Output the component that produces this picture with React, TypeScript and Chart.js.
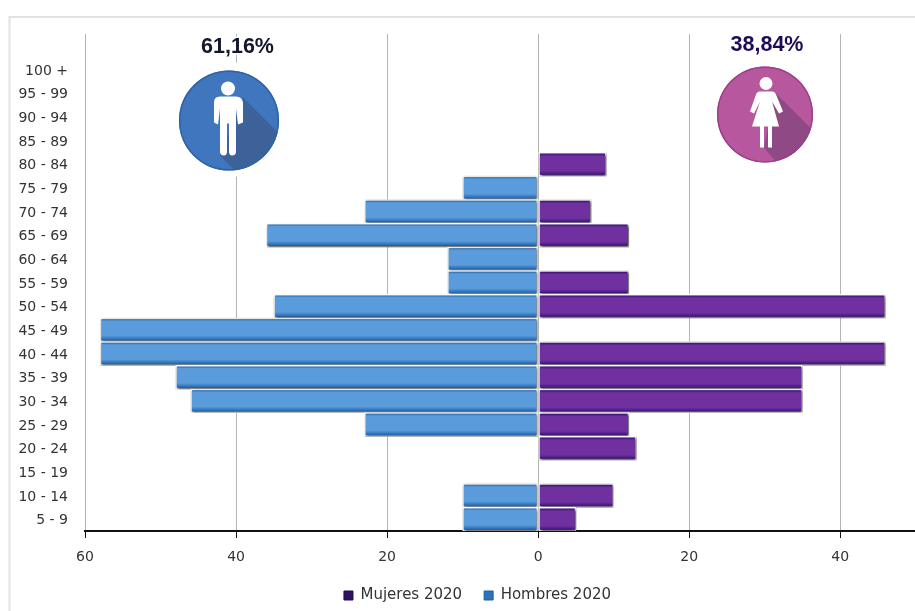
import React, { useEffect, useRef } from "react";
import { Chart, registerables } from "chart.js";

Chart.register(...registerables);

// Age groups from top to bottom; the empty slot leaves headroom for the share headings.
const ageGroups = ["", "100 +", "95 - 99", "90 - 94", "85 - 89", "80 - 84", "75 - 79", "70 - 74", "65 - 69", "60 - 64", "55 - 59", "50 - 54", "45 - 49", "40 - 44", "35 - 39", "30 - 34", "25 - 29", "20 - 24", "15 - 19", "10 - 14", "5 - 9"];
const mujeres2020 = [null, null, null, null, null, 9, null, 7, 12, null, 12, 46, null, 46, 35, 35, 12, 13, null, 10, 5];
const hombres2020 = [null, null, null, null, null, null, -10, -23, -36, -12, -12, -35, -58, -58, -48, -46, -23, null, null, -10, -10];
const shareHombres = "61,16%";
const shareMujeres = "38,84%";

const FONT = "'DejaVu Sans', sans-serif";

type Stops = [number, string][];
const blueStops: Stops = [[0, "#2f70b6"], [0.09, "#5a9bdb"], [0.78, "#5a9bdb"], [1, "#1f64ab"]];
const purpleStops: Stops = [[0, "#3c1478"], [0.12, "#7030a0"], [0.82, "#7030a0"], [1, "#3c1478"]];

// Vertical sheen across each bar, computed from the category band it sits in.
function barFill(stops: Stops) {
  return (c: any) => {
    const { chart, dataIndex } = c;
    const y = chart.scales?.y;
    if (!y || dataIndex === undefined) return stops[1][1];
    const mid = y.getPixelForValue(dataIndex);
    const g = chart.ctx.createLinearGradient(0, mid - 10.5, 0, mid + 10.5);
    stops.forEach(([o, col]) => g.addColorStop(o, col));
    return g;
  };
}

// Outer frame of the chart panel, running off the right and bottom of the page.
const panelFrame = {
  id: "panelFrame",
  beforeDraw(chart: any) {
    const { ctx } = chart;
    ctx.save();
    ctx.strokeStyle = "#e2e2e2";
    ctx.lineWidth = 2;
    ctx.strokeRect(9.5, 17, 2000, 2000);
    ctx.restore();
  },
};

// Moves the centred legend block a little to the right of the canvas centre.
const legendShift = {
  id: "legendShift",
  afterLayout(chart: any) {
    chart.legend.left += 20;
    chart.legend.right += 20;
  },
};

// Drop shadow beneath the bars.
const barShadow = {
  id: "barShadow",
  beforeDatasetsDraw(chart: any) {
    const { ctx } = chart;
    ctx.save();
    ctx.shadowColor = "rgba(0,0,0,0.8)";
    ctx.shadowBlur = 2.5;
    ctx.shadowOffsetX = 1;
    ctx.shadowOffsetY = 1;
  },
  afterDatasetsDraw(chart: any) {
    chart.ctx.restore();
  },
};

function badge(ctx: CanvasRenderingContext2D, cx: number, cy: number, r: number, base: string, edge: string, shade: string, wedge: [number, number][], figure: (c: CanvasRenderingContext2D) => void) {
  ctx.save();
  ctx.translate(cx, cy);
  ctx.fillStyle = "#fff";
  ctx.fillRect(-r - 6, -r - 8, 2 * r + 12, 2 * r + 14);
  ctx.beginPath();
  ctx.arc(0, 0, r, 0, Math.PI * 2);
  ctx.fillStyle = base;
  ctx.fill();
  ctx.save();
  ctx.clip();
  ctx.beginPath();
  wedge.forEach(([x, y], i) => (i ? ctx.lineTo(x, y) : ctx.moveTo(x, y)));
  ctx.closePath();
  ctx.fillStyle = shade;
  ctx.fill();
  ctx.restore();
  ctx.beginPath();
  ctx.arc(0, 0, r - 0.7, 0, Math.PI * 2);
  ctx.strokeStyle = edge;
  ctx.lineWidth = 1.5;
  ctx.stroke();
  ctx.fillStyle = "#fff";
  figure(ctx);
  ctx.restore();
}

function manFigure(c: CanvasRenderingContext2D) {
  c.beginPath();
  c.arc(-1, -32, 7, 0, Math.PI * 2);
  c.fill();
  c.beginPath();
  c.moveTo(-9, -24);
  c.lineTo(7, -24);
  c.quadraticCurveTo(13, -24, 14, -18);
  c.lineTo(14, 2);
  c.lineTo(9, 4);
  c.lineTo(7, -12);
  c.lineTo(7, 31);
  c.quadraticCurveTo(7, 35, 3, 35);
  c.quadraticCurveTo(0, 35, 0, 31);
  c.lineTo(0, 3);
  c.lineTo(-2, 3);
  c.lineTo(-2, 31);
  c.quadraticCurveTo(-2, 35, -5, 35);
  c.quadraticCurveTo(-9, 35, -9, 31);
  c.lineTo(-9, -12);
  c.lineTo(-11, 4);
  c.lineTo(-15, 2);
  c.lineTo(-15, -18);
  c.quadraticCurveTo(-15, -24, -9, -24);
  c.closePath();
  c.fill();
}

function womanFigure(c: CanvasRenderingContext2D) {
  c.beginPath();
  c.arc(1, -31, 6.5, 0, Math.PI * 2);
  c.fill();
  c.beginPath();
  c.moveTo(-5, -23);
  c.lineTo(7, -23);
  c.quadraticCurveTo(10, -23, 11, -20);
  c.lineTo(18, -3);
  c.lineTo(14, -1);
  c.lineTo(7, -13);
  c.lineTo(14, 12);
  c.lineTo(7, 12);
  c.lineTo(7, 33);
  c.lineTo(3, 33);
  c.lineTo(3, 12);
  c.lineTo(-1, 12);
  c.lineTo(-1, 33);
  c.lineTo(-5, 33);
  c.lineTo(-5, 12);
  c.lineTo(-13, 12);
  c.lineTo(-5, -13);
  c.lineTo(-11, -1);
  c.lineTo(-15, -3);
  c.lineTo(-9, -20);
  c.quadraticCurveTo(-8, -23, -5, -23);
  c.closePath();
  c.fill();
}

// Share headings and the two round pictograms above the pyramid.
const shareBadges = {
  id: "shareBadges",
  afterDatasetsDraw(chart: any) {
    const { ctx } = chart;
    badge(ctx, 229, 120.5, 50, "#4076bd", "#2f63a8", "#3c6299", [[14, -23], [64, 27], [64, 90], [46, 90], [-9, 35]], manFigure);
    badge(ctx, 765, 114.5, 48, "#b7589f", "#9b3f88", "#8f4a86", [[10, -22], [60, 28], [60, 90], [46, 90], [-1, 33]], womanFigure);
    ctx.save();
    ctx.font = "bold 21.5px 'Liberation Sans', Arial, sans-serif";
    ctx.textAlign = "center";
    ctx.textBaseline = "middle";
    ctx.lineJoin = "round";
    ctx.strokeStyle = "#fff";
    ctx.lineWidth = 3;
    ctx.strokeText(shareHombres, 237.5, 47.5);
    ctx.fillStyle = "#14162c";
    ctx.fillText(shareHombres, 237.5, 47.5);
    ctx.strokeText(shareMujeres, 767, 45.5);
    ctx.fillStyle = "#1f0b54";
    ctx.fillText(shareMujeres, 767, 45.5);
    ctx.restore();
  },
};

export default function App() {
  const ref = useRef<HTMLCanvasElement>(null);

  useEffect(() => {
    const chart = new Chart(ref.current!, {
      type: "bar",
      data: {
        labels: ageGroups,
        datasets: [
          {
            label: "Mujeres 2020",
            data: mujeres2020,
            backgroundColor: barFill(purpleStops),
            borderColor: "#ffffff",
            borderWidth: 1.5,
            borderSkipped: false,
          },
          {
            label: "Hombres 2020",
            data: hombres2020,
            backgroundColor: barFill(blueStops),
            borderColor: "#ffffff",
            borderWidth: 1.5,
            borderSkipped: false,
          },
        ],
      },
      plugins: [panelFrame, legendShift, barShadow, shareBadges],
      options: {
        indexAxis: "y",
        animation: false,
        responsive: false,
        layout: { padding: { top: 34, left: 0, right: 0, bottom: -2 } },
        datasets: { bar: { categoryPercentage: 1, barPercentage: 1 } },
        scales: {
          x: {
            stacked: true,
            min: -60,
            max: 49.9,
            afterFit: (s: any) => { s.height = 35; },
            ticks: {
              stepSize: 20,
              includeBounds: false,
              maxRotation: 0,
              padding: 11,
              color: "#333333",
              font: { family: FONT, size: 14 },
              callback: (v: any) => String(Math.abs(Number(v))),
            },
            grid: { color: "#b4b4b4", lineWidth: 1, tickColor: "#111111", tickLength: 7 },
            border: { color: "#111111", width: 2 },
          },
          y: {
            stacked: true,
            afterFit: (s: any) => { s.width = 85; },
            ticks: {
              autoSkip: false,
              padding: 9,
              labelOffset: 1.5,
              color: "#333333",
              font: { family: FONT, size: 14 },
            },
            grid: { display: false },
            border: { display: false },
          },
        },
        plugins: {
          title: { display: false },
          tooltip: { enabled: false },
          legend: {
            position: "bottom",
            labels: {
              color: "#333333",
              font: { family: FONT, size: 15 },
              boxWidth: 9,
              boxHeight: 9,
              padding: 22,
              generateLabels: () => [
                { text: "Mujeres 2020", fillStyle: "#2e1065", strokeStyle: "#1e0a50", lineWidth: 1, fontColor: "#333333" },
                { text: "Hombres 2020", fillStyle: "#2b74ba", strokeStyle: "#1f5f9f", lineWidth: 1, fontColor: "#333333" },
              ],
            },
          },
        },
      },
    } as any);
    return () => chart.destroy();
  }, []);

  return (
    <div style={{ position: "fixed", left: 0, top: 0, width: 915, height: 611, background: "#fff" }}>
      <canvas ref={ref} width={915} height={611} style={{ display: "block" }} />
    </div>
  );
}
